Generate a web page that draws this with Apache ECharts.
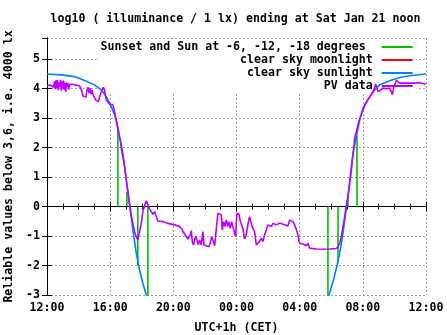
<!DOCTYPE html>
<html><head><meta charset="utf-8">
<script src="https://cdn.jsdelivr.net/npm/echarts@6/dist/echarts.min.js"></script>
<style>html,body{margin:0;padding:0;background:#fff}#c{width:447px;height:335px}</style>
</head><body><div id="c"></div>
<script>
const titleText = 'log10 ( illuminance / 1 lx) ending at Sat Jan 21 noon';
const xAxisTitle = 'UTC+1h (CET)';
const yAxisTitle = 'Reliable values below 3,6, i.e. 4000 lx';
const xTickLabels = ['12:00', '16:00', '20:00', '00:00', '04:00', '08:00', '12:00'];
const yTickLabels = ['-3', '-2', '-1', '0', '1', '2', '3', '4', '5'];
const seriesNames = ['Sunset and Sun at -6, -12, -18 degrees ', 'clear sky moonlight', 'clear sky sunlight', 'PV data'];

// hours after Friday 12:00
const twilightHours = [4.49, 5.06, 5.75, 6.39, 17.79, 18.43, 19.06, 19.63];
const twilightLog = [2.6, 0.5, -2.0, -3.5, -3.5, -1.9, 0.4, 2.4];

const moonHours = [];
const moonLog = [];

const sunHours = [0, 0.900, 1.742, 2.376, 3.010, 3.434, 3.751, 4.068, 4.277, 4.423, 4.626, 4.803, 5.119, 5.227, 5.436, 5.652, 5.861, 6.070, 6.285, 6.399, null,
  17.772, 17.855, 18.108, 18.324, 18.489, 18.640, 18.742, 19.059, 19.375, 19.591, 19.800, 20.009, 20.326, 20.643, 21.067, 21.700, 22.334, 22.968, 24];
const sunLog = [4.50, 4.47, 4.41, 4.28, 4.13, 3.96, 3.73, 3.39, 3.11, 2.88, 2.30, 1.81, 0.51, 0.11, -0.79, -1.58, -2.15, -2.60, -3.00, -3.20, null,
  -3.20, -3.00, -2.55, -2.10, -1.70, -1.25, -0.90, 0.34, 1.81, 2.37, 2.94, 3.34, 3.62, 3.90, 4.13, 4.27, 4.38, 4.44, 4.50];

const pvHours = [0, 0.095, 0.222, 0.348, 0.412, 0.475, 0.520, 0.570, 0.621, 0.665, 0.716, 0.760, 0.811, 0.855, 0.906, 0.950, 1.001, 1.045, 1.096, 1.140,
  1.191, 1.236, 1.286, 1.331, 1.381, 1.426, 1.489, 1.552, 1.679, 1.806, 1.932, 2.059, 2.154, 2.218, 2.268, 2.344, 2.471, 2.534, 2.598, 2.661,
  2.724, 2.788, 2.851, 2.915, 3.010, 3.073, 3.168, 3.263, 3.326, 3.421, 3.497, 3.580, 3.643, 3.751, 3.852, 3.960, 4.068, 4.169, 4.277, 4.384,
  4.448, 4.549, 4.638, 4.720, 4.803, 4.866, 4.929, 5.018, 5.119, 5.183, 5.271, 5.335, 5.436, 5.544, 5.652, 5.753, 5.861, 5.969, 6.070, 6.178,
  6.285, 6.387, 6.494, 6.602, 6.703, 6.811, 6.919, 7.020, 7.337, 7.654, 8.078, 8.395, 8.522, 8.649, 8.807, 8.921, 8.985, 9.073, 9.137, 9.200,
  9.282, 9.409, 9.491, 9.580, 9.662, 9.770, 9.871, 9.935, 10.042, 10.252, 10.340, 10.423, 10.505, 10.613, 10.720, 10.822, 10.929, 11.037, 11.101, 11.183,
  11.265, 11.354, 11.437, 11.519, 11.608, 11.690, 11.772, 11.880, 11.943, 12.026, 12.153, 12.241, 12.305, 12.406, 12.514, 12.621, 12.723, 12.830, 12.938, 13.039,
  13.147, 13.255, 13.356, 13.464, 13.572, 13.673, 13.781, 13.889, 13.990, 14.098, 14.205, 14.307, 14.522, 14.623, 14.731, 14.839, 15.048, 15.257, 15.365, 15.472,
  15.574, 15.681, 15.789, 15.891, 15.954, 16.062, 16.208, 16.423, 16.525, 16.632, 16.740, 17.057, 17.475, 17.899, 18.324, 18.425, 18.533, 18.640, 18.742, 18.850,
  18.957, 19.059, 19.166, 19.274, 19.337, 19.420, 19.483, 19.591, 19.692, 19.844, 20.009, 20.224, 20.434, 20.643, 20.814, 20.960, 21.112, 21.277, 21.492, 21.701,
  21.809, 21.872, 21.954, 22.125, 22.334, 22.759, 23.177, 23.602, 23.919, 24.0];
const pvLog = [4.10, 4.13, 4.12, 4.15, 4.05, 4.25, 3.98, 4.28, 4.02, 4.30, 3.95, 4.22, 4.05, 4.30, 3.92, 4.25, 4.00, 4.28, 3.95, 4.20,
  3.90, 4.22, 4.05, 4.18, 3.98, 4.15, 4.10, 4.13, 4.14, 4.12, 4.12, 4.10, 4.08, 3.90, 3.75, 3.70, 3.72, 3.95, 4.05, 3.85,
  4.02, 3.82, 3.95, 3.80, 3.85, 3.62, 3.58, 3.56, 3.72, 3.75, 3.98, 4.05, 3.95, 3.62, 3.65, 3.47, 3.50, 3.46, 3.22, 2.92,
  2.90, 2.43, 2.26, 1.92, 1.69, 1.52, 1.30, 0.90, 0.53, 0.22, -0.12, -0.30, -0.57, -0.85, -1.02, -1.13, -1.08, -0.57, -0.17, 0.02,
  0.20, 0.17, -0.08, -0.12, -0.26, -0.17, -0.34, -0.49, -0.51, -0.57, -0.62, -0.68, -0.75, -0.88, -1.00, -1.10, -1.13, -0.96, -0.82, -1.19,
  -1.30, -1.00, -1.13, -1.30, -1.13, -1.30, -0.85, -1.30, -1.36, -1.36, -1.24, -1.02, -1.13, -1.33, -1.36, -0.23, -0.23, -0.28, -0.79, -0.51,
  -0.68, -0.45, -0.68, -0.51, -0.74, -0.51, -0.68, -0.91, -1.02, -0.23, -0.25, -0.50, -0.45, -0.75, -1.10, -0.95, -0.60, -0.34, -0.57, -0.75,
  -0.85, -1.30, -1.33, -1.19, -1.07, -1.19, -0.96, -0.79, -0.62, -0.57, -0.68, -0.57, -0.62, -0.57, -0.56, -0.62, -0.62, -0.66, -0.45, -0.43,
  -0.51, -0.62, -0.79, -0.96, -1.19, -1.26, -1.27, -1.33, -1.24, -1.41, -1.45, -1.44, -1.45, -1.44, -1.42, -1.35, -1.25, -1.02, -0.68, -0.34,
  0.05, 0.34, 0.79, 1.24, 1.58, 1.95, 2.32, 2.54, 2.77, 3.05, 3.28, 3.56, 3.73, 3.88, 4.16, 3.90, 3.95, 4.02, 4.00, 4.02,
  3.98, 3.80, 4.05, 4.28, 4.19, 4.19, 4.19, 4.20, 4.16, 4.18];

const FONT = "'DejaVu Sans Mono', 'Liberation Mono', monospace";
const FS = 11.6;

function pairs(hs, vs) {
  return hs.map((h, i) => (h === null ? '-' : [h, vs[i]]));
}
function impulses(hs, vs) {
  const out = [];
  hs.forEach((h, i) => { out.push([h, 0], [h, vs[i]], '-'); });
  return out;
}

const chart = echarts.init(document.getElementById('c'), null, { renderer: 'canvas' });
const lblStyle = { fontFamily: FONT, fontSize: FS, fontWeight: 'bold', color: '#000' };
const gridLine = { show: true, lineStyle: { color: '#a0a0a0', width: 1, type: [2, 2] } };

chart.setOption({
  animation: false,
  backgroundColor: '#fff',
  title: {
    text: titleText, left: 50.5, top: 13, padding: 0,
    textStyle: { fontFamily: FONT, fontSize: FS, fontWeight: 'bold', color: '#000' }
  },
  grid: { left: 47, right: 21, top: 38, bottom: 40, containLabel: false, outerBoundsMode: 'none' },
  legend: {
    data: seriesNames, orient: 'vertical', align: 'right', right: 30.3, top: 39,
    itemWidth: 31, itemHeight: 2, itemGap: 1, icon: 'rect',
    padding: [2, 4, 0, 2], backgroundColor: '#fff', z: 1, selectedMode: false,
    textStyle: { fontFamily: FONT, fontSize: FS, fontWeight: 'bold', color: '#000', lineHeight: 12, padding: [0, 4, 0, 0] }
  },
  xAxis: [{
    type: 'value', min: 0, max: 24, interval: 4, position: 'bottom',
    name: xAxisTitle, nameLocation: 'middle', nameGap: 26.5,
    nameTextStyle: lblStyle,
    axisLine: { show: true, lineStyle: { color: '#000', width: 1 } },
    axisTick: { show: true, inside: true, length: 5, lineStyle: { color: '#000' } },
    minorTick: { show: true, splitNumber: 4, length: 3, lineStyle: { color: '#000' } },
    axisLabel: { margin: 7, ...lblStyle, formatter: v => { const k = Math.round(v / 4); return xTickLabels[k] ?? ''; } },
    splitLine: gridLine
  }, {
    type: 'value', min: 0, max: 24, interval: 4, position: 'top',
    axisLine: { show: true, lineStyle: { color: '#000', width: 1 } },
    axisTick: { show: true, inside: true, length: 5, lineStyle: { color: '#000' } },
    minorTick: { show: true, splitNumber: 4, length: 3, lineStyle: { color: '#000' } },
    axisLabel: { show: false }, splitLine: { show: false }
  }],
  yAxis: [{
    type: 'value', min: -3, max: 5.72, interval: 1, position: 'left',
    name: yAxisTitle, nameLocation: 'middle', nameGap: 25, nameRotate: 90,
    nameTextStyle: lblStyle,
    axisLine: { show: true, lineStyle: { color: '#000', width: 1 } },
    axisTick: { show: true, inside: true, length: 5, lineStyle: { color: '#000' } },
    axisLabel: { margin: 7, showMaxLabel: false, ...lblStyle, formatter: v => { const k = Math.round(v + 3); return Math.abs(v + 3 - k) < 1e-6 ? (yTickLabels[k] ?? '') : ''; } },
    splitLine: gridLine
  }, {
    type: 'value', min: -3, max: 5.72, interval: 1, position: 'right',
    axisLine: { show: true, lineStyle: { color: '#000', width: 1 } },
    axisTick: { show: true, inside: true, length: 5, lineStyle: { color: '#000' } },
    axisLabel: { show: false }, splitLine: { show: false }
  }],
  series: [
    { name: seriesNames[0], type: 'line', data: impulses(twilightHours, twilightLog), showSymbol: false, connectNulls: false,
      lineStyle: { color: '#00c000', width: 1.6 }, itemStyle: { color: '#00c000' }, z: 2 },
    { name: seriesNames[1], type: 'line', data: pairs(moonHours, moonLog), showSymbol: false,
      lineStyle: { color: '#ff0000', width: 1.6 }, itemStyle: { color: '#ff0000' }, z: 2 },
    { name: seriesNames[2], type: 'line', data: pairs(sunHours, sunLog), showSymbol: false, connectNulls: false,
      lineStyle: { color: '#0080ff', width: 1.6 }, itemStyle: { color: '#0080ff' }, z: 2 },
    { name: seriesNames[3], type: 'line', data: pairs(pvHours, pvLog), showSymbol: false,
      lineStyle: { color: '#c000ff', width: 1.6 }, itemStyle: { color: '#c000ff' }, z: 2 }
  ]
});
</script></body></html>
